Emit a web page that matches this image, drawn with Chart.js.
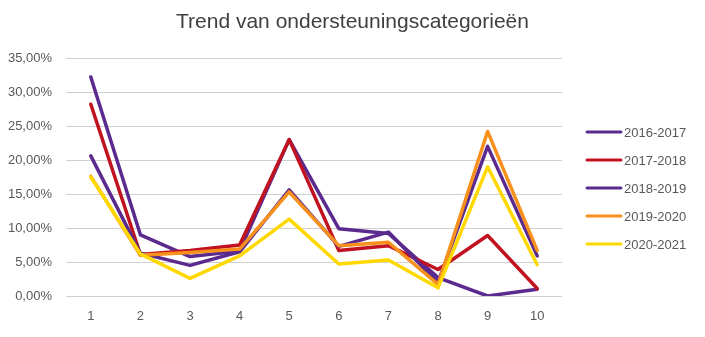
<!DOCTYPE html>
<html>
<head>
<meta charset="utf-8">
<script src="https://cdn.jsdelivr.net/npm/chart.js@4"></script>
<style>
  html, body { margin: 0; padding: 0; background: #fff; }
  #wrap { width: 705px; height: 337px; }
</style>
</head>
<body>
<div id="wrap"><canvas id="trendChart" width="705" height="337"></canvas></div>
<script>
// categories 1..10, shares in percent per school year
const categories = ["1", "2", "3", "4", "5", "6", "7", "8", "9", "10"];
const years = ["2016-2017", "2017-2018", "2018-2019", "2019-2020", "2020-2021"];
const y1617 = [32.2, 9.0, 5.8, 6.6, 23.0, 9.9, 9.2, 2.7, 0.0, 1.0];
const y1718 = [28.2, 6.1, 6.7, 7.5, 23.0, 6.7, 7.4, 3.9, 8.9, 1.1];
const y1819 = [20.6, 6.3, 4.5, 6.5, 15.6, 7.3, 9.4, 2.0, 22.0, 5.9];
const y1920 = [17.6, 6.0, 6.4, 6.9, 15.3, 7.4, 7.9, 1.7, 24.2, 6.7];
const y2021 = [17.5, 6.2, 2.6, 5.9, 11.3, 4.7, 5.3, 1.2, 19.0, 4.6];
const colors = ["#5b2a8e", "#c0121f", "#5b2a8e", "#f8901c", "#ffd800"];

const series = [y1617, y1718, y1819, y1920, y2021];
const textColor = "#595959";
const font = "Liberation Sans";

// legend drawn at the right, one short line per year
const sideLegend = {
  id: "sideLegend",
  afterDraw(chart) {
    const ctx = chart.ctx;
    const x0 = 587, y0 = 132, step = 28;
    ctx.save();
    ctx.font = "13px '" + font + "'";
    ctx.textBaseline = "middle";
    chart.data.datasets.forEach((ds, i) => {
      const y = y0 + i * step;
      ctx.strokeStyle = ds.borderColor;
      ctx.lineWidth = 3;
      ctx.lineCap = "round";
      ctx.beginPath();
      ctx.moveTo(x0, y);
      ctx.lineTo(x0 + 34, y);
      ctx.stroke();
      ctx.fillStyle = textColor;
      ctx.fillText(ds.label, x0 + 37, y + 1);
    });
    ctx.restore();
  }
};

const chart = new Chart(document.getElementById("trendChart"), {
  type: "line",
  data: {
    labels: categories,
    datasets: years.map((y, i) => ({
      label: y,
      data: series[i],
      borderColor: colors[i],
      backgroundColor: colors[i],
      borderWidth: 3.5,
      borderJoinStyle: "round",
      borderCapStyle: "round",
      pointRadius: 0,
      tension: 0,
      order: years.length - i
    }))
  },
  options: {
    responsive: false,
    animation: false,
    layout: { padding: 0 },
    plugins: {
      legend: { display: false },
      tooltip: { enabled: false },
      title: {
        display: true,
        text: "Trend van ondersteuningscategorieën",
        color: "#404040",
        font: { family: font, size: 21, weight: "normal", lineHeight: 1.2 },
        padding: { top: 10, bottom: 22.8 }
      }
    },
    scales: {
      x: {
        offset: true,
        grid: { display: false, drawTicks: false },
        border: { display: false },
        ticks: { color: textColor, font: { family: font, size: 13 }, padding: 13 },
        afterFit(scale) { scale.height = 41; }
      },
      y: {
        min: 0,
        max: 35,
        border: { display: false },
        grid: { color: "#d0d0d0", lineWidth: 1, drawTicks: false },
        ticks: {
          stepSize: 5,
          color: textColor,
          font: { family: font, size: 13 },
          padding: 14,
          callback: v => v.toFixed(2).replace(".", ",") + "%"
        },
        afterFit(scale) { scale.width = 66; }
      },
      // empty axis on the right keeps room for the legend
      side: {
        type: "linear",
        position: "right",
        grid: { display: false },
        border: { display: false },
        ticks: { display: false },
        afterFit(scale) { scale.width = 143; }
      }
    }
  },
  plugins: [sideLegend]
});
</script>
</body>
</html>
